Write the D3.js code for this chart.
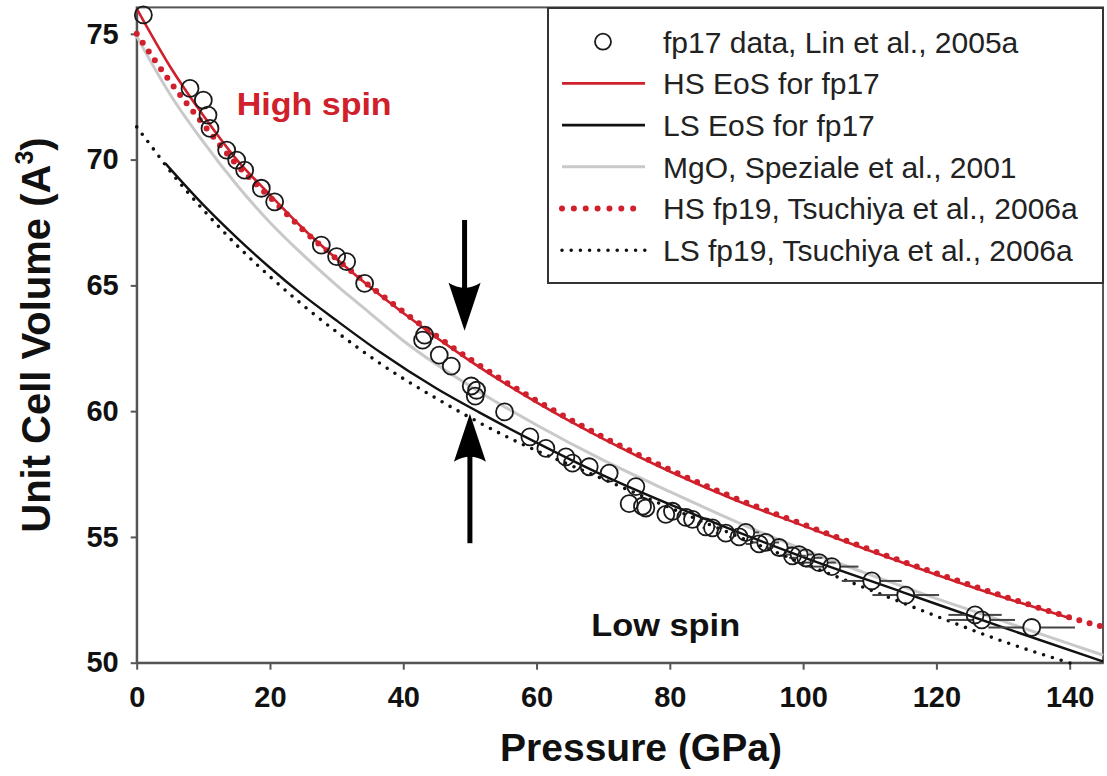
<!DOCTYPE html>
<html><head><meta charset="utf-8">
<script src="https://cdn.jsdelivr.net/npm/d3@7"></script>
<style>
html,body{margin:0;padding:0;background:#fff;}
svg{display:block;font-family:"Liberation Sans",Arial,Helvetica,sans-serif;}
</style></head><body>
<svg id="chart" width="1107" height="776"></svg>
<script>
// ---------- data ----------
const xTicks = [0, 20, 40, 60, 80, 100, 120, 140];
const yTicks = [50, 55, 60, 65, 70, 75];

// fp17 data, Lin et al., 2005a  (pressure GPa, volume A^3, pressure error GPa)
const dataP = [1.0, 8.0, 10.0, 10.7, 11.0, 13.5, 15.0, 16.2, 18.7, 20.7, 27.7, 30.0, 31.5, 34.2,
  42.9, 43.2, 45.4, 47.2, 50.2, 50.8, 51.0, 55.2,
  59.0, 61.4, 64.4, 65.4, 67.9, 70.9, 73.9, 74.9, 75.9, 76.4, 79.4, 80.4, 82.4, 83.4, 85.4, 86.4, 88.4,
  90.4, 91.4, 93.4, 94.4, 96.4, 98.4, 99.4, 100.4, 102.4, 104.3, 110.3, 115.4, 125.8, 126.8, 134.3];
const dataV = [75.75, 72.83, 72.36, 71.77, 71.24, 70.38, 69.98, 69.58, 68.86, 68.32, 66.60, 66.14, 65.94, 65.08,
  62.82, 63.02, 62.23, 61.79, 61.00, 60.60, 60.83, 59.97,
  58.98, 58.52, 58.18, 57.93, 57.79, 57.54, 56.32, 57.00, 56.22, 56.15, 55.90, 56.02, 55.78, 55.70, 55.40, 55.36, 55.15,
  55.00, 55.18, 54.72, 54.78, 54.58, 54.25, 54.30, 54.17, 53.98, 53.82, 53.25, 52.69, 51.90, 51.70, 51.40];
const dataErr = [0, 0, 0, 0, 0, 0, 0, 0, 0, 0, 0, 0, 0, 0,
  0, 0, 0, 0, 0, 0, 0, 0,
  0, 0, 0, 0, 0, 0, 0, 0, 0, 0, 0, 0, 0, 0, 1.5, 1.5, 1.5,
  1.5, 2, 2, 2, 2, 2, 2, 2.5, 2.5, 4, 4.5, 5, 4, 5, 6.5];

// HS EoS for fp17 (red solid)
const hsEosP = [0, 5, 10, 15, 20, 25, 30, 40, 50, 60, 70, 80, 90, 100, 110, 120, 130, 140.3];
const hsEosV = [76.0, 73.7, 71.75, 70.0, 68.6, 67.25, 66.05, 63.9, 62.0, 60.35, 58.9, 57.6, 56.45, 55.45, 54.45, 53.5, 52.6, 51.75];

// LS EoS for fp17 (black solid)
const lsEosP = [4.3, 10, 15, 20, 25, 30, 36.5, 45, 51.4, 60, 70, 85, 100, 115, 130, 145];
const lsEosV = [69.85, 68.2, 66.9, 65.7, 64.6, 63.6, 62.35, 60.9, 59.95, 58.75, 57.45, 55.75, 54.2, 52.8, 51.4, 50.05];

// MgO, Speziale et al., 2001 (grey)
const mgoP = [0, 5, 10, 15, 20, 25, 30, 35, 40, 50, 60, 70, 80, 90, 100, 110, 120, 130, 140, 145];
const mgoV = [74.9, 72.6, 70.7, 69.0, 67.5, 66.2, 65.0, 63.9, 62.8, 61.0, 59.45, 58.05, 56.8, 55.6, 54.5, 53.5, 52.55, 51.65, 50.75, 50.3];

// HS fp19, Tsuchiya et al., 2006a (red dotted)
const hsTsP = [0, 5, 10, 15, 20, 25, 30, 40, 50, 60, 70, 80, 90, 100, 110, 120, 130, 140, 145];
const hsTsV = [75.0, 73.1, 71.4, 69.8, 68.5, 67.2, 66.05, 63.95, 62.07, 60.42, 58.97, 57.67, 56.52, 55.5, 54.5, 53.55, 52.65, 51.8, 51.42];

// LS fp19, Tsuchiya et al., 2006a (black dotted)
const lsTsP = [0, 2, 5, 10, 15, 20, 25, 30, 36.5, 45, 55, 70, 85, 100, 110, 120, 130, 140.5];
const lsTsV = [71.3, 70.6, 69.55, 68.0, 66.6, 65.35, 64.2, 63.15, 61.9, 60.5, 59.05, 57.3, 55.6, 53.95, 52.9, 51.85, 50.85, 49.95];

const legendLabels = ["fp17 data, Lin et al., 2005a", "HS EoS for fp17", "LS EoS for fp17",
  "MgO, Speziale et al., 2001", "HS fp19, Tsuchiya et al., 2006a", "LS fp19, Tsuchiya et al., 2006a"];

// annotations (data coordinates)
const downArrow = {P: 49.2, from: 67.6, to: 63.2};
const upArrow = {P: 50.0, from: 54.75, to: 59.9};
const highSpinLabel = {P: 15.0, V: 71.77, text: "High spin"};
const lowSpinLabel = {P: 68.2, V: 51.07, text: "Low spin"};

// ---------- drawing ----------
const RED = "#d0202c";
const svg = d3.select("#chart");
const L = 136.7, R = 1103, T = 7.4, B = 662.7;
const x = d3.scaleLinear().domain([0, 145]).range([L, R]);
const y = d3.scaleLinear().domain([50, 76.05]).range([B, T]);

// frame
svg.append("rect").attr("x", L).attr("y", T).attr("width", R - L).attr("height", B - T)
  .attr("fill", "none").attr("stroke", "#555").attr("stroke-width", 2);

// axes
const xAxis = svg.append("g").attr("transform", `translate(0,${B})`)
  .call(d3.axisBottom(x).tickValues(xTicks).tickSize(7).tickSizeOuter(0).tickPadding(17).tickFormat(d3.format("d")));
const yAxis = svg.append("g").attr("transform", `translate(${L},0)`)
  .call(d3.axisLeft(y).tickValues(yTicks).tickSize(6).tickSizeOuter(0).tickPadding(12).tickFormat(d3.format("d")));
[xAxis, yAxis].forEach(g => {
  g.select(".domain").attr("stroke", "#555").attr("stroke-width", 2);
  g.selectAll(".tick line").attr("stroke", "#555").attr("stroke-width", 2);
  g.selectAll(".tick text").attr("fill", "#111").attr("font-size", 29).attr("font-weight", "bold")
    .attr("font-family", "'Liberation Sans',Arial,sans-serif");
});

// axis titles
svg.append("text").attr("x", 641).attr("y", 761).attr("text-anchor", "middle")
  .attr("font-size", 39).attr("font-weight", "bold").attr("fill", "#111").text("Pressure (GPa)");
const yt = svg.append("text").attr("transform", `translate(50,${(T + B) / 2}) rotate(-90)`)
  .attr("text-anchor", "middle").attr("font-size", 40).attr("font-weight", "bold").attr("fill", "#111");
yt.append("tspan").text("Unit Cell Volume (A");
yt.append("tspan").attr("font-size", 25).attr("dy", -17).text("3");
yt.append("tspan").attr("dy", 17).text(")");

const zip = (P, V) => P.map((p, i) => [p, V[i]]);
const line = d3.line().x(d => x(d[0])).y(d => y(d[1])).curve(d3.curveMonotoneX);
const plot = svg.append("g");

plot.append("path").datum(zip(mgoP, mgoV)).attr("d", line).attr("fill", "none")
  .attr("stroke", "#c9c9c9").attr("stroke-width", 3);
plot.append("path").datum(zip(lsEosP, lsEosV)).attr("d", line).attr("fill", "none")
  .attr("stroke", "#111").attr("stroke-width", 2.4);
plot.append("path").datum(zip(hsEosP, hsEosV)).attr("d", line).attr("fill", "none")
  .attr("stroke", RED).attr("stroke-width", 2.6);
plot.append("path").datum(zip(lsTsP, lsTsV)).attr("d", line).attr("fill", "none")
  .attr("stroke", "#111").attr("stroke-width", 3.6).attr("stroke-linecap", "round").attr("stroke-dasharray", "0 9.2");
plot.append("path").datum(zip(hsTsP, hsTsV)).attr("d", line).attr("fill", "none")
  .attr("stroke", RED).attr("stroke-width", 6).attr("stroke-linecap", "round").attr("stroke-dasharray", "0 10.7");

// data points with pressure error bars
const R0 = 8.5;
const pts = dataP.map((p, i) => ({P: p, V: dataV[i], e: dataErr[i]}));
const eb = plot.append("g").attr("stroke", "#444").attr("stroke-width", 2);
pts.filter(d => d.e > 0).forEach(d => {
  const cx = x(d.P), cy = y(d.V);
  eb.append("line").attr("x1", x(d.P - d.e)).attr("x2", cx - R0).attr("y1", cy).attr("y2", cy);
  eb.append("line").attr("x1", cx + R0).attr("x2", x(d.P + d.e)).attr("y1", cy).attr("y2", cy);
});
plot.append("g").selectAll("circle").data(pts).join("circle")
  .attr("cx", d => x(d.P)).attr("cy", d => y(d.V)).attr("r", R0)
  .attr("fill", "none").attr("stroke", "#1a1a1a").attr("stroke-width", 1.8);

// arrows
function arrow(a) {
  const cx = x(a.P), y0 = y(a.from), y1 = y(a.to);
  const dir = y1 > y0 ? 1 : -1;
  const headLen = 44, headW = 16, shaft = 5;
  const yb = y1 - dir * headLen;
  svg.append("line").attr("x1", cx).attr("x2", cx).attr("y1", y0).attr("y2", yb + dir * 6)
    .attr("stroke", "#000").attr("stroke-width", shaft);
  svg.append("path").attr("d", `M${cx},${y1} L${cx - headW},${yb - dir * 4} Q${cx},${yb + dir * 6} ${cx + headW},${yb - dir * 4} Z`)
    .attr("fill", "#000");
}
arrow(downArrow);
arrow(upArrow);

// in-plot labels (horizontally stretched like the reference)
svg.append("text").attr("x", x(highSpinLabel.P)).attr("y", y(highSpinLabel.V))
  .attr("font-size", 31).attr("font-weight", "bold").attr("fill", RED)
  .attr("textLength", 155).attr("lengthAdjust", "spacingAndGlyphs").text(highSpinLabel.text);
svg.append("text").attr("x", x(lowSpinLabel.P)).attr("y", y(lowSpinLabel.V))
  .attr("font-size", 31).attr("font-weight", "bold").attr("fill", "#111")
  .attr("textLength", 149).attr("lengthAdjust", "spacingAndGlyphs").text(lowSpinLabel.text);

// legend
const lg = svg.append("g");
lg.append("rect").attr("x", 548).attr("y", 8).attr("width", 555).attr("height", 275)
  .attr("fill", "#fff").attr("stroke", "#333").attr("stroke-width", 2);
const rowY = i => 41.7 + i * 41.7;
const sx0 = 562, sx1 = 645;
lg.append("circle").attr("cx", 603).attr("cy", rowY(0)).attr("r", 8).attr("fill", "none")
  .attr("stroke", "#1a1a1a").attr("stroke-width", 1.8);
const sample = (i, color, w, dash) => {
  const l = lg.append("line").attr("x1", sx0).attr("x2", sx1).attr("y1", rowY(i)).attr("y2", rowY(i))
    .attr("stroke", color).attr("stroke-width", w);
  if (dash) l.attr("stroke-dasharray", dash).attr("stroke-linecap", "round");
};
sample(1, RED, 2.6);
sample(2, "#111", 2.6);
sample(3, "#c9c9c9", 3);
sample(4, RED, 6, "0 11.86");
sample(5, "#111", 3.6, "0 9.2");
legendLabels.forEach((t, i) => {
  lg.append("text").attr("x", 663).attr("y", rowY(i)).attr("dy", "0.36em")
    .attr("font-size", 30).attr("fill", "#222").text(t);
});
</script>
</body></html>
